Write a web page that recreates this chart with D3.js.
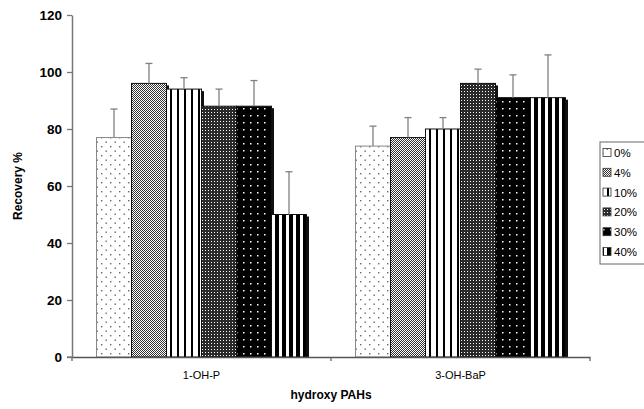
<!DOCTYPE html>
<html><head><meta charset="utf-8">
<script src="https://cdn.jsdelivr.net/npm/d3@7"></script>
<style>body{margin:0;background:#fff}svg{display:block;font-family:"Liberation Sans",Arial,sans-serif}</style>
</head><body><svg id="c" width="644" height="409"></svg>
<script>
const categories = ["1-OH-P", "3-OH-BaP"];
const seriesNames = ["0%", "4%", "10%", "20%", "30%", "40%"];
const values = {
  "1-OH-P":   [77, 96, 94, 88, 88, 50],
  "3-OH-BaP": [74, 77, 80, 96, 91, 91]
};
const errors = {
  "1-OH-P":   [10, 7, 4, 6, 9, 15],
  "3-OH-BaP": [7, 7, 4, 5, 8, 15]
};
const yTicks = [0, 20, 40, 60, 80, 100, 120];

const svg = d3.select("#c");
const defs = svg.append("defs");
function pat(id, w, h, bg, draw) {
  const p = defs.append("pattern").attr("id", id).attr("patternUnits", "userSpaceOnUse")
    .attr("width", w).attr("height", h);
  p.append("rect").attr("width", w).attr("height", h).attr("fill", bg);
  draw(p);
}
pat("p0", 9, 9, "#fff", p => {
  p.append("rect").attr("x", 2).attr("y", 2).attr("width", 1.4).attr("height", 1.4).attr("fill", "#666");
  p.append("rect").attr("x", 6.5).attr("y", 6.5).attr("width", 1.4).attr("height", 1.4).attr("fill", "#666");
});
pat("p1", 2, 2, "#fff", p => {
  p.append("rect").attr("x", 0).attr("y", 0).attr("width", 1).attr("height", 1).attr("fill", "#333");
  p.append("rect").attr("x", 1).attr("y", 1).attr("width", 1).attr("height", 1).attr("fill", "#333");
});
pat("p2", 7, 7, "#fff", p => {
  p.append("rect").attr("x", 0).attr("y", 0).attr("width", 2).attr("height", 7).attr("fill", "#000");
});
pat("p3", 3, 3, "#2a2a2a", p => {
  p.append("rect").attr("x", 1).attr("y", 1).attr("width", 1).attr("height", 1).attr("fill", "#fff");
});
pat("p4", 7, 7, "#000", p => {
  p.append("rect").attr("x", 3).attr("y", 3).attr("width", 1.5).attr("height", 1.5).attr("fill", "#fff");
});
pat("p5", 7, 7, "#000", p => {
  p.append("rect").attr("x", 4).attr("y", 0).attr("width", 3).attr("height", 7).attr("fill", "#fff");
});
const fills = ["url(#p0)", "url(#p1)", "url(#p2)", "url(#p3)", "url(#p4)", "url(#p5)"];

const x0 = d3.scaleBand().domain(categories).range([72, 590]).paddingInner(0).paddingOuter(0);
const x1 = d3.scaleBand().domain(seriesNames).range([24.5, x0.bandwidth() - 24.5]).padding(0);
const y = d3.scaleLinear().domain([0, 120]).range([357, 15]);

// Bars
categories.forEach(cat => {
  const g = svg.append("g").attr("transform", `translate(${x0(cat)},0)`);
  seriesNames.forEach((s, i) => {
    const v = values[cat][i];
    const bx = x1(s), bw = x1.bandwidth();
    g.append("rect").attr("x", bx + 2.5).attr("y", y(v) + 2).attr("width", bw)
      .attr("height", y(0) - y(v) - 2).attr("fill", "#111");
    g.append("rect").attr("x", bx).attr("y", y(v)).attr("width", bw).attr("height", y(0) - y(v))
      .attr("fill", fills[i]).attr("stroke", i === 0 ? "#888" : "#111").attr("stroke-width", 1);
  });
  seriesNames.forEach((s, i) => {
    const v = values[cat][i], e = errors[cat][i];
    const cx = x1(s) + x1.bandwidth() / 2;
    g.append("line").attr("x1", cx).attr("x2", cx).attr("y1", y(v)).attr("y2", y(v + e))
      .attr("stroke", "#808080").attr("stroke-width", 1.3);
    g.append("line").attr("x1", cx - 3.5).attr("x2", cx + 3.5).attr("y1", y(v + e)).attr("y2", y(v + e))
      .attr("stroke", "#808080").attr("stroke-width", 1.3);
  });
});

// Y axis
const yAxis = d3.axisLeft(y).tickValues(yTicks).tickSize(5).tickSizeOuter(0);
const ya = svg.append("g").attr("transform", "translate(72,0)").call(yAxis);
ya.select(".domain").attr("stroke", "#777").attr("stroke-width", 1.5);
ya.selectAll(".tick line").attr("stroke", "#777").attr("stroke-width", 1.3);
ya.selectAll(".tick text").attr("font-size", 13.5).attr("font-weight", "bold").attr("fill", "#000")
  .attr("font-family", "Liberation Sans, Arial, sans-serif").attr("x", -10);

// X axis
const xAxis = d3.axisBottom(x0).tickSize(0);
const xa = svg.append("g").attr("transform", `translate(0,${y(0)})`).call(xAxis);
xa.select(".domain").attr("stroke", "#555").attr("stroke-width", 1.5);
xa.selectAll(".tick text").attr("font-size", 11).attr("fill", "#000").attr("dy", 0).attr("y", 22)
  .attr("font-family", "Liberation Sans, Arial, sans-serif");
[72, 331, 590].forEach(px => {
  xa.append("line").attr("x1", px).attr("x2", px).attr("y1", 0).attr("y2", 4).attr("stroke", "#666").attr("stroke-width", 1.3);
});
xa.append("line").attr("x1", 67).attr("x2", 72).attr("y1", 0).attr("y2", 0).attr("stroke", "#777").attr("stroke-width", 1.3);

// Axis titles
svg.append("text").attr("transform", "translate(22,186) rotate(-90)").attr("text-anchor", "middle")
  .attr("font-size", 12).attr("font-weight", "bold").text("Recovery %");
svg.append("text").attr("x", 331).attr("y", 399).attr("text-anchor", "middle")
  .attr("font-size", 12).attr("font-weight", "bold").text("hydroxy PAHs");

// Legend
const lg = svg.append("g").attr("transform", "translate(600,142)");
lg.append("rect").attr("x", 0).attr("y", 0).attr("width", 50).attr("height", 122)
  .attr("fill", "#fff").attr("stroke", "#666").attr("stroke-width", 1);
seriesNames.forEach((s, i) => {
  const yy = 11 + i * 19.8;
  lg.append("rect").attr("x", 3).attr("y", yy - 4.5).attr("width", 8).attr("height", 8)
    .attr("fill", fills[i]).attr("stroke", "#333").attr("stroke-width", 0.8);
  lg.append("text").attr("x", 14).attr("y", yy + 4).attr("font-size", 11.5).text(s);
});
</script>
</body></html>
